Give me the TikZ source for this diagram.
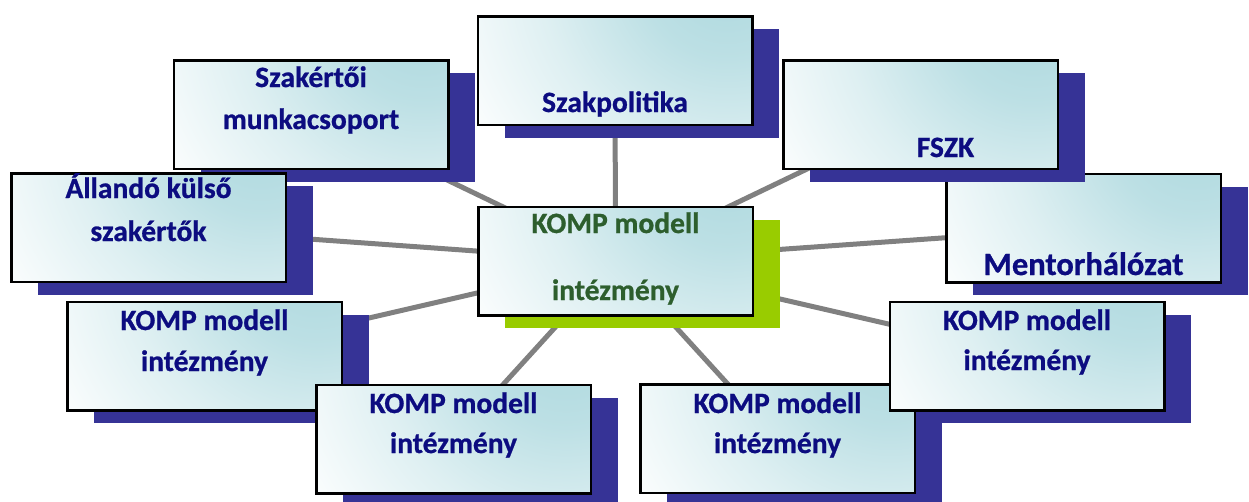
\documentclass[tikz,border=0pt]{standalone}
\usepackage{fontspec}
\setmainfont{Carlito}[BoldFeatures={FakeBold=0.8}]
\usetikzlibrary{shadows}

\definecolor{navytext}{RGB}{12,12,128}
\definecolor{greentext}{RGB}{45,94,45}
\definecolor{shadowblue}{RGB}{54,51,150}
\definecolor{shadowgreen}{RGB}{153,204,0}
\definecolor{boxtint}{RGB}{172,216,222}
\definecolor{linkgray}{RGB}{128,128,128}

% soft teal glow that fades to white away from a box's upper right corner
\pgfdeclareradialshading{boxglow}{\pgfpoint{0bp}{0bp}}{%
  color(0bp)=(boxtint); color(7bp)=(boxtint!80!white);
  color(15bp)=(boxtint!40!white); color(25bp)=(white); color(50bp)=(white)}

\pgfdeclarelayer{links}
\pgfsetlayers{links,main}

\begin{document}
\begin{tikzpicture}[x=1pt,y=-1pt,
  box/.style={draw=black, line width=2.5pt, fill=white,
    minimum width=274.5pt, minimum height=108.5pt,
    inner sep=0pt, outer sep=0pt,
    path picture={\shade[shading=boxglow]
      ([xshift=-25pt,yshift=45pt]path picture bounding box.north east) circle (310pt);}},
  bluebox/.style={box, general shadow={fill=shadowblue, shadow xshift=27pt, shadow yshift=-13pt}},
  greenbox/.style={box, general shadow={fill=shadowgreen, shadow xshift=27pt, shadow yshift=-13pt}},
  txt/.style={font=\fontsize{29.5}{35}\selectfont\bfseries, text=navytext, anchor=base, inner sep=0pt},
  link/.style={draw=linkgray, line width=5pt}]

\useasboundingbox (0,0) rectangle (1249,501);

% outer ring of boxes, back to front
\node[bluebox] (pol) at (615,70.5) {};
\node[txt] (polt) at (615,112) {Szakpolitika};

\node[bluebox] (szm) at (311,114.5) {};
\node[txt] (szm1) at (311,87) {Szakértői};
\node[txt] (szm2) at (311,129) {munkacsoport};

\node[bluebox] (all) at (148.5,227.5) {};
\node[txt] (all1) at (148.5,198) {Állandó külső};
\node[txt] (all2) at (148.5,241) {szakértők};

\node[bluebox] (men) at (1083.5,228) {};
\node[txt, font=\fontsize{32.5}{38}\selectfont\bfseries] (ment) at (1083.5,275) {Mentorhálózat};

\node[bluebox] (fszk) at (920.5,114.5) {};
\node[txt] (fszkt) at (945.5,157) {FSZK};

% hub
\node[greenbox] (mid) at (615.5,261) {};
\node[txt, text=greentext] (mid1) at (615.5,233) {KOMP modell};
\node[txt, text=greentext] (mid2) at (615.5,300) {intézmény};

\node[bluebox] (kl) at (204.5,356) {};
\node[txt] (kl1) at (204.5,330) {KOMP modell};
\node[txt] (kl2) at (204.5,371) {intézmény};

\node[bluebox] (kbl) at (453.5,439) {};
\node[txt] (kbl1) at (453.5,413) {KOMP modell};
\node[txt] (kbl2) at (453.5,453) {intézmény};

\node[bluebox] (kbr) at (777.5,438.5) {};
\node[txt] (kbr1) at (777.5,413) {KOMP modell};
\node[txt] (kbr2) at (777.5,453) {intézmény};

\node[bluebox] (kr) at (1027,356) {};
\node[txt] (kr1) at (1027,330) {KOMP modell};
\node[txt] (kr2) at (1027,370) {intézmény};

% spokes from the hub, kept underneath every box
\begin{pgfonlayer}{links}
  \foreach \t in {pol,szm,all,men,fszk,kl,kbl,kbr,kr}
    \draw[link] (mid.center) -- (\t.center);
\end{pgfonlayer}
\end{tikzpicture}
\end{document}
